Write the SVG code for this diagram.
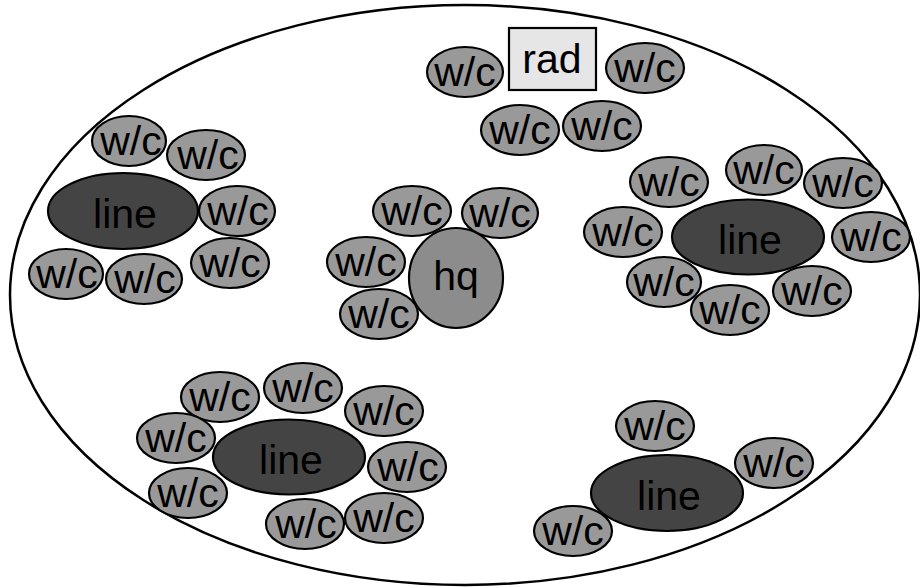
<svg xmlns="http://www.w3.org/2000/svg" width="920" height="588" viewBox="0 0 920 588">
<style>
.wc{fill:#999999;stroke:#000;stroke-width:2.2}
.ln{fill:#444444;stroke:#000;stroke-width:2.2}
.hq{fill:#8c8c8c;stroke:#000;stroke-width:2.2}
.rd{fill:#e6e6e6;stroke:#000;stroke-width:2.2}
text{font-family:"Liberation Sans",Arial,sans-serif;font-size:41px;fill:#000;text-anchor:middle}
</style>
<rect width="920" height="588" fill="#fff"/>
<ellipse id="campus" cx="465" cy="295" rx="455" ry="290" fill="none" stroke="#000" stroke-width="2.5"/>
<g id="connectors"></g>
<!-- top cluster -->
<g id="rad"><rect class="rd" x="509" y="28" width="87" height="62"/><text x="552" y="73">rad</text></g>
<g id="wc1"><ellipse class="wc" cx="465" cy="72" rx="38" ry="25"/><text x="465" y="86">w/c</text></g>
<g id="wc2"><ellipse class="wc" cx="645" cy="68" rx="39" ry="25"/><text x="645" y="82">w/c</text></g>
<g id="wc3"><ellipse class="wc" cx="520" cy="130" rx="39" ry="25"/><text x="520" y="144">w/c</text></g>
<g id="wc4"><ellipse class="wc" cx="602" cy="126" rx="39" ry="25"/><text x="602" y="140">w/c</text></g>
<!-- left-top cluster -->
<g id="line1"><ellipse class="ln" cx="123" cy="211" rx="75" ry="38"/><text x="125" y="228">line</text></g>
<g id="wc5"><ellipse class="wc" cx="129" cy="141" rx="37" ry="25"/><text x="131" y="155">w/c</text></g>
<g id="wc6"><ellipse class="wc" cx="206" cy="155" rx="39" ry="25"/><text x="208" y="169">w/c</text></g>
<g id="wc7"><ellipse class="wc" cx="237" cy="211" rx="38" ry="25"/><text x="238" y="225">w/c</text></g>
<g id="wc8"><ellipse class="wc" cx="230" cy="263" rx="39" ry="25"/><text x="230" y="277">w/c</text></g>
<g id="wc9"><ellipse class="wc" cx="66" cy="274" rx="37" ry="25"/><text x="67" y="288">w/c</text></g>
<g id="wc10"><ellipse class="wc" cx="144" cy="279" rx="38" ry="25"/><text x="145" y="293">w/c</text></g>
<!-- hq cluster -->
<g id="hq"><ellipse class="hq" cx="456" cy="278" rx="47" ry="50"/><text x="456" y="290">hq</text></g>
<g id="wc11"><ellipse class="wc" cx="412" cy="211" rx="39" ry="25"/><text x="412" y="225">w/c</text></g>
<g id="wc12"><ellipse class="wc" cx="500" cy="213" rx="38" ry="25"/><text x="500" y="227">w/c</text></g>
<g id="wc13"><ellipse class="wc" cx="366" cy="262" rx="39" ry="25"/><text x="366" y="276">w/c</text></g>
<g id="wc14"><ellipse class="wc" cx="379" cy="314" rx="39" ry="25"/><text x="379" y="328">w/c</text></g>
<!-- right cluster -->
<g id="line2"><ellipse class="ln" cx="748" cy="237" rx="76" ry="37.5"/><text x="750" y="254">line</text></g>
<g id="wc15"><ellipse class="wc" cx="669" cy="182" rx="39" ry="25"/><text x="669" y="196">w/c</text></g>
<g id="wc16"><ellipse class="wc" cx="764" cy="170" rx="38" ry="25"/><text x="764" y="184">w/c</text></g>
<g id="wc17"><ellipse class="wc" cx="843" cy="183" rx="39" ry="25"/><text x="843" y="197">w/c</text></g>
<g id="wc18"><ellipse class="wc" cx="623" cy="232" rx="39" ry="25"/><text x="623" y="246">w/c</text></g>
<g id="wc19"><ellipse class="wc" cx="871" cy="237" rx="39" ry="25"/><text x="871" y="251">w/c</text></g>
<g id="wc20"><ellipse class="wc" cx="664" cy="282" rx="37" ry="25"/><text x="664" y="296">w/c</text></g>
<g id="wc21"><ellipse class="wc" cx="812" cy="291" rx="39" ry="25"/><text x="812" y="305">w/c</text></g>
<g id="wc22"><ellipse class="wc" cx="730" cy="310" rx="39" ry="25"/><text x="730" y="324">w/c</text></g>
<!-- bottom-left cluster -->
<g id="line3"><ellipse class="ln" cx="289" cy="457" rx="76" ry="37.5"/><text x="291" y="474">line</text></g>
<g id="wc23"><ellipse class="wc" cx="220" cy="397" rx="39" ry="25"/><text x="220" y="411">w/c</text></g>
<g id="wc24"><ellipse class="wc" cx="303" cy="388" rx="39" ry="25"/><text x="303" y="402">w/c</text></g>
<g id="wc25"><ellipse class="wc" cx="384" cy="411" rx="39" ry="25"/><text x="384" y="425">w/c</text></g>
<g id="wc26"><ellipse class="wc" cx="176" cy="438" rx="39" ry="25"/><text x="176" y="452">w/c</text></g>
<g id="wc27"><ellipse class="wc" cx="407" cy="467" rx="39" ry="25"/><text x="408" y="481">w/c</text></g>
<g id="wc28"><ellipse class="wc" cx="188" cy="493" rx="39" ry="25"/><text x="188" y="507">w/c</text></g>
<g id="wc29"><ellipse class="wc" cx="305" cy="524" rx="39" ry="25"/><text x="306" y="538">w/c</text></g>
<g id="wc30"><ellipse class="wc" cx="384" cy="518" rx="39" ry="25"/><text x="384" y="532">w/c</text></g>
<!-- bottom-right cluster -->
<g id="line4"><ellipse class="ln" cx="667" cy="493" rx="76" ry="38"/><text x="669" y="510">line</text></g>
<g id="wc31"><ellipse class="wc" cx="655" cy="426" rx="39" ry="25"/><text x="655" y="440">w/c</text></g>
<g id="wc32"><ellipse class="wc" cx="774" cy="463" rx="39" ry="25"/><text x="774" y="477">w/c</text></g>
<g id="wc33"><ellipse class="wc" cx="573" cy="531" rx="39" ry="25"/><text x="573" y="545">w/c</text></g>
</svg>
